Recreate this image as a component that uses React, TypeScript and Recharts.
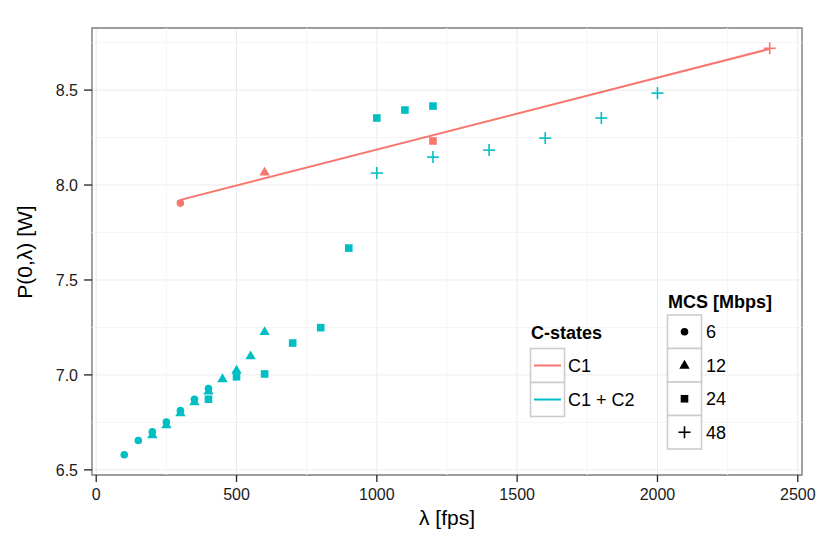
import React from 'react';
import { ScatterChart, Scatter, XAxis, YAxis, CartesianGrid, ReferenceLine, ReferenceArea } from 'recharts';

const RED = '#F8766D';
const CYAN = '#00BFC4';

const xTicks = [0, 500, 1000, 1500, 2000, 2500];
const yTicks = [6.5, 7.0, 7.5, 8.0, 8.5];
const xMinor = [250, 750, 1250, 1750, 2250];
const yMinor = [6.75, 7.25, 7.75, 8.25, 8.75];
const xDomain = [-15, 2515];
const yDomain = [6.473, 8.827];

// C1 + C2 (cyan)
const c12Mcs6 = [
  { x: 100, y: 6.58 }, { x: 150, y: 6.655 }, { x: 200, y: 6.70 }, { x: 250, y: 6.752 },
  { x: 300, y: 6.812 }, { x: 350, y: 6.872 }, { x: 400, y: 6.928 },
];
const c12Mcs12 = [
  { x: 200, y: 6.685 }, { x: 250, y: 6.737 }, { x: 300, y: 6.80 }, { x: 350, y: 6.858 },
  { x: 400, y: 6.915 }, { x: 450, y: 6.98 }, { x: 500, y: 7.025 }, { x: 550, y: 7.10 }, { x: 600, y: 7.228 },
];
const c12Mcs24 = [
  { x: 400, y: 6.872 }, { x: 500, y: 6.99 }, { x: 600, y: 7.005 }, { x: 700, y: 7.168 },
  { x: 800, y: 7.249 }, { x: 900, y: 7.668 }, { x: 1000, y: 8.353 }, { x: 1100, y: 8.395 }, { x: 1200, y: 8.416 },
];
const c12Mcs48 = [
  { x: 1000, y: 8.063 }, { x: 1200, y: 8.147 }, { x: 1400, y: 8.184 }, { x: 1600, y: 8.247 },
  { x: 1800, y: 8.353 }, { x: 2000, y: 8.484 },
];

// C1 (red)
const c1Mcs6 = [{ x: 300, y: 7.905 }];
const c1Mcs12 = [{ x: 600, y: 8.068 }];
const c1Mcs24 = [{ x: 1200, y: 8.232 }];
const c1Mcs48 = [{ x: 2400, y: 8.72 }];
const c1Fit = [{ x: 300, y: 7.922 }, { x: 2400, y: 8.717 }];

const cStateLabels = ['C1', 'C1 + C2'];
const mcsLabels = ['6', '12', '24', '48'];

const circleShape = (color: string) => (p: any) => <circle cx={p.cx} cy={p.cy} r={3.8} fill={color} />;
const triShape = (color: string) => (p: any) => (
  <polygon points={`${p.cx},${p.cy - 5.4} ${p.cx - 5.2},${p.cy + 3.4} ${p.cx + 5.2},${p.cy + 3.4}`} fill={color} />
);
const sqShape = (color: string) => (p: any) => <rect x={p.cx - 3.8} y={p.cy - 3.8} width={7.6} height={7.6} fill={color} />;
const plusShape = (color: string) => (p: any) => (
  <g stroke={color} strokeWidth={1.6}>
    <line x1={p.cx - 6} y1={p.cy} x2={p.cx + 6} y2={p.cy} />
    <line x1={p.cx} y1={p.cy - 6} x2={p.cx} y2={p.cy + 6} />
  </g>
);
const noShape = () => <g />;

const FONT = "'Liberation Sans', Arial, Helvetica, sans-serif";

function LegendSym({ kind, cx, cy }: { kind: number; cx: number; cy: number }) {
  const c = '#000';
  const p = { cx, cy };
  if (kind === 0) return circleShape(c)(p);
  if (kind === 1) return triShape(c)(p);
  if (kind === 2) return sqShape(c)(p);
  return plusShape(c)(p);
}

export default function App() {
  const keyH = 33.5;
  return (
    <div style={{ position: 'absolute', left: 0, top: 0, width: 830, height: 554, background: '#fff', fontFamily: FONT }}>
      <ScatterChart width={830} height={554} margin={{ top: 28, right: 28, bottom: 49, left: 0 }}>
        <CartesianGrid stroke="#ebebeb" strokeWidth={1} />
        {xMinor.map((v) => (
          <ReferenceLine key={'xm' + v} x={v} stroke="#f4f4f4" strokeWidth={1} />
        ))}
        {yMinor.map((v) => (
          <ReferenceLine key={'ym' + v} y={v} stroke="#f4f4f4" strokeWidth={1} />
        ))}
        <XAxis
          type="number"
          dataKey="x"
          domain={xDomain}
          ticks={xTicks}
          allowDataOverflow
          axisLine={false}
          tickSize={7}
          tickMargin={7}
          height={30}
          tickLine={{ stroke: '#222', strokeWidth: 1.3 }}
          tick={{ fontSize: 16, fill: '#1a1a1a', fontFamily: FONT }}
          tickFormatter={(v: number) => String(v)}
        />
        <YAxis
          type="number"
          dataKey="y"
          domain={yDomain}
          ticks={yTicks}
          allowDataOverflow
          axisLine={false}
          tickSize={8}
          tickMargin={6}
          width={92}
          tickLine={{ stroke: '#222', strokeWidth: 1.3 }}
          tick={{ fontSize: 16, fill: '#1a1a1a', fontFamily: FONT }}
          tickFormatter={(v: number) => v.toFixed(1)}
        />
        <Scatter data={c12Mcs6} shape={circleShape(CYAN)} isAnimationActive={false} />
        <Scatter data={c12Mcs12} shape={triShape(CYAN)} isAnimationActive={false} />
        <Scatter data={c12Mcs24} shape={sqShape(CYAN)} isAnimationActive={false} />
        <Scatter data={c12Mcs48} shape={plusShape(CYAN)} isAnimationActive={false} />
        <Scatter data={c1Mcs6} shape={circleShape(RED)} isAnimationActive={false} />
        <Scatter data={c1Mcs12} shape={triShape(RED)} isAnimationActive={false} />
        <Scatter data={c1Mcs24} shape={sqShape(RED)} isAnimationActive={false} />
        <Scatter data={c1Mcs48} shape={plusShape(RED)} isAnimationActive={false} />
        <Scatter data={c1Fit} shape={noShape} line={{ stroke: RED, strokeWidth: 2 }} isAnimationActive={false} />
        <ReferenceArea
          x1={xDomain[0]}
          x2={xDomain[1]}
          y1={yDomain[0]}
          y2={yDomain[1]}
          fill="none"
          fillOpacity={0}
          stroke="#7f7f7f"
          strokeWidth={1.4}
          ifOverflow="visible"
        />
      </ScatterChart>
      <svg width={830} height={554} style={{ position: 'absolute', left: 0, top: 0, pointerEvents: 'none' }}>
        <text x={447} y={525} textAnchor="middle" fontSize={21} fill="#000" fontFamily={FONT}>
          λ [fps]
        </text>
        <text transform="translate(32,252) rotate(-90)" textAnchor="middle" fontSize={21} fill="#000" fontFamily={FONT}>
          P(0,λ) [W]
        </text>
        {/* C-states legend */}
        <text x={531} y={339} fontSize={18} fontWeight="bold" fill="#000" fontFamily={FONT}>
          C-states
        </text>
        {cStateLabels.map((lab, i) => {
          const y0 = 348.5 + i * 34;
          return (
            <g key={lab}>
              <rect x={530.5} y={y0} width={34} height={34} fill="#fff" stroke="#cccccc" strokeWidth={1.6} />
              <line x1={534} x2={561} y1={y0 + 17} y2={y0 + 17} stroke={i === 0 ? RED : CYAN} strokeWidth={2} />
              <text x={568} y={y0 + 23.5} fontSize={18} fill="#000" fontFamily={FONT}>
                {lab}
              </text>
            </g>
          );
        })}
        {/* MCS legend */}
        <text x={668} y={307.5} fontSize={18} fontWeight="bold" fill="#000" fontFamily={FONT}>
          MCS [Mbps]
        </text>
        {mcsLabels.map((lab, i) => {
          const y0 = 315 + i * keyH;
          return (
            <g key={lab}>
              <rect x={667.5} y={y0} width={34} height={keyH} fill="#fff" stroke="#cccccc" strokeWidth={1.6} />
              <LegendSym kind={i} cx={684.5} cy={y0 + keyH / 2} />
              <text x={706} y={y0 + keyH / 2 + 6.5} fontSize={18} fill="#000" fontFamily={FONT}>
                {lab}
              </text>
            </g>
          );
        })}
      </svg>
    </div>
  );
}
